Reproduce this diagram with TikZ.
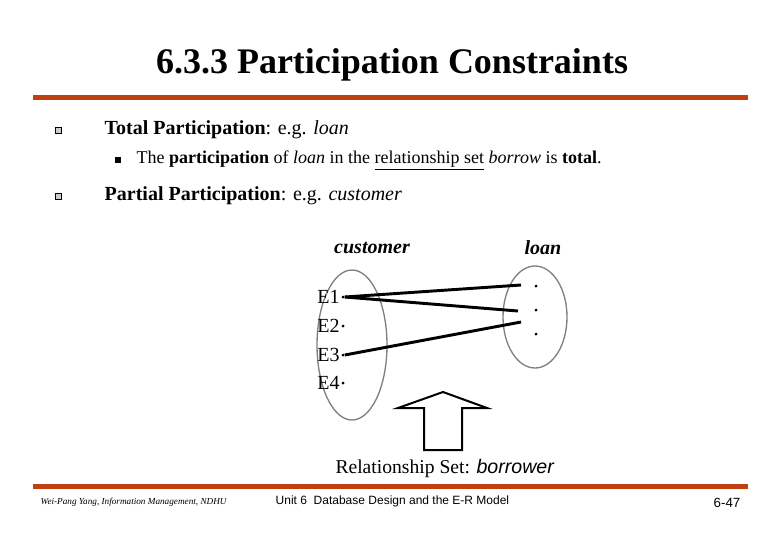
\documentclass[tikz,border=0pt]{standalone}
\usepackage{fontspec}
\setmainfont{Liberation Serif}
\setsansfont{Liberation Sans}
\usetikzlibrary{positioning}
\definecolor{rulered}{RGB}{192,64,16}
\newcommand{\ulsub}[1]{\underline{#1}}

\begin{document}
\begin{tikzpicture}[x=0.75pt,y=-0.75pt,
  setline/.style={line width=2.2pt},
  dotpt/.style={circle,fill,inner sep=0.8pt},
  elab/.style={font=\fontsize{15}{15}\selectfont,anchor=east,inner sep=1pt}]
  \useasboundingbox (0,0) rectangle (780,540);
  % title and rules
  \node (title) at (392,65) {\fontsize{27}{27}\selectfont\bfseries 6.3.3 Participation Constraints};
  \fill[rulered] (33,95) rectangle (748,100);
  \fill[rulered] (33,484) rectangle (748,489);

  % bullets
  \draw[fill=gray!40] (55,127) rectangle (61,133);
  \node[anchor=west] (total) at (100,130) {\fontsize{15}{16}\selectfont\textbf{Total Participation}: e.g. \textit{loan}};
  \fill (115,157) rectangle (121,163);
  \node[anchor=west] (sub) at (132,160) {\fontsize{13.5}{14}\selectfont The \textbf{participation} of \textit{loan} in the \ulsub{relationship set} \textit{borrow} is \textbf{total}.};
  \draw[fill=gray!40] (55,193) rectangle (61,199);
  \node[anchor=west] (partial) at (100,196) {\fontsize{15}{16}\selectfont\textbf{Partial Participation}: e.g. \textit{customer}};

  % entity sets
  \node (cust) at (372,248) {\fontsize{15}{16}\selectfont\bfseries\itshape customer};
  \node (loan) at (543,248) {\fontsize{15}{16}\selectfont\bfseries\itshape loan};
  \draw[gray,line width=1pt] (352,345) ellipse [x radius=35,y radius=75];
  \draw[gray,line width=1pt] (535,317) ellipse [x radius=32,y radius=51];

  \foreach \i/\y in {1/297,2/326,3/355,4/383}{
    \node[dotpt] (e\i) at (343,\y) {};
    \node[elab,left=0pt of e\i] {E\i};
  }
  \foreach \i/\y in {1/286,2/310,3/334}
    \node[dotpt] (l\i) at (536,\y) {};

  \coordinate (a1) at (521,285);
  \coordinate (a2) at (518,311);
  \coordinate (a3) at (521,322);
  \draw[setline] (e1.east) -- (a1);
  \draw[setline] (e1.east) -- (a2);
  \draw[setline] (e3.east) -- (a3);

  % hollow arrow
  \draw[line width=1.5pt] (424,450) -- (424,408) -- (398,408) -- (443,392)
    -- (487,408) -- (462,408) -- (462,450) -- cycle;
  \node (rel) at (445,468) {\fontsize{14.7}{15}\selectfont Relationship Set: \textsf{\itshape borrower}};

  % footer
  \node[anchor=west] (foot1) at (36,502) {\fontsize{6.9}{7}\selectfont\itshape Wei-Pang Yang, Information Management, NDHU};
  \node[anchor=west] (foot2) at (271,501) {\fontsize{9}{10}\selectfont\sffamily Unit 6\ \ Database Design and the E-R Model};
  \node (foot3) at (727,503) {\fontsize{10}{10}\selectfont\sffamily 6-47};
\end{tikzpicture}
\end{document}
